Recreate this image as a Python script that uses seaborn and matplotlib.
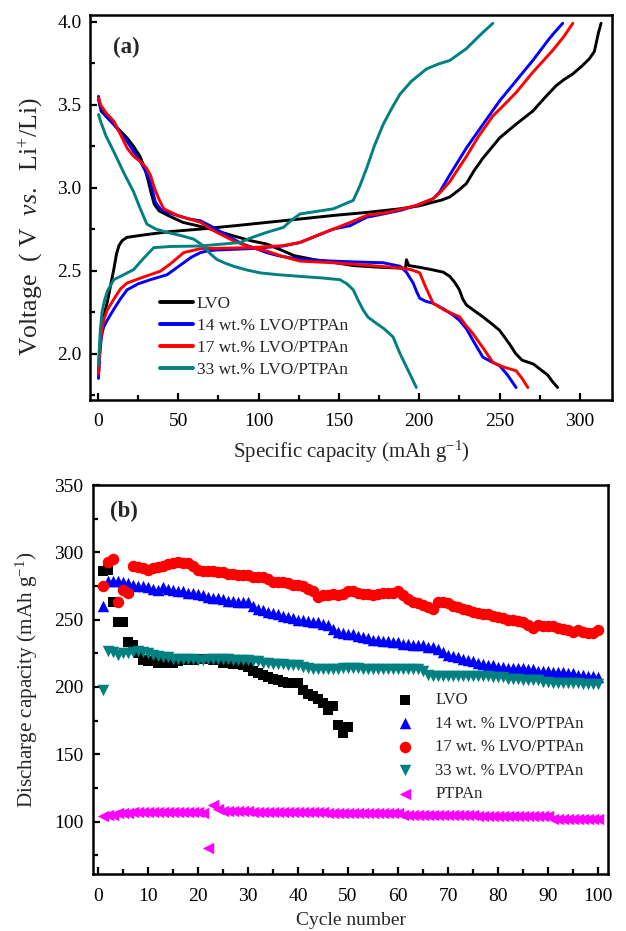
import numpy as np
import pandas as pd
import matplotlib
matplotlib.use("Agg")
import matplotlib.pyplot as plt
import seaborn as sns
from matplotlib.ticker import MultipleLocator

sns.set_theme(style="ticks")
plt.rcParams["font.family"] = ["Liberation Serif", "DejaVu Serif"]
plt.rcParams["mathtext.fontset"] = "custom"
plt.rcParams["mathtext.rm"] = "Liberation Serif"
plt.rcParams["mathtext.it"] = "Liberation Serif:italic"
plt.rcParams["mathtext.bf"] = "Liberation Serif:bold"

# ---------------- Panel (a) data: charge / discharge curves ----------------
series_a = ["LVO", "14 wt.% LVO/PTPAn", "17 wt.% LVO/PTPAn", "33 wt.% LVO/PTPAn"]
colors_a = ["#000000", "#0000FF", "#FF0000", "#008080"]

lvo_dis_cap = [0.3, 2, 6, 10, 14, 18, 22, 26, 29, 31, 33, 35, 38, 44, 53, 62, 70, 84, 95, 105, 115, 122, 135, 146, 159, 175, 188, 191.5, 192, 193.5, 200, 208, 215, 219, 222, 225, 227, 229.3, 234, 239.6, 245, 250, 256, 260, 264, 271, 276, 280, 283, 286.2]
lvo_dis_v = [3.53, 3.46, 3.42, 3.38, 3.34, 3.30, 3.25, 3.19, 3.12, 3.05, 2.97, 2.90, 2.86, 2.83, 2.79, 2.77, 2.75, 2.71, 2.68, 2.66, 2.62, 2.59, 2.565, 2.55, 2.53, 2.52, 2.515, 2.515, 2.565, 2.53, 2.52, 2.505, 2.49, 2.465, 2.43, 2.384, 2.33, 2.293, 2.26, 2.221, 2.18, 2.14, 2.06, 2.0, 1.96, 1.937, 1.90, 1.87, 1.83, 1.795]
lvo_chg_cap = [0.3, 0.8, 1.5, 2.5, 4, 6, 8, 9.8, 11.5, 13, 15, 18, 25, 32.6, 45, 63.7, 85, 105, 125, 146.5, 167, 187.9, 200, 208.6, 214, 218.9, 224, 229.3, 234, 239.6, 245, 250, 260, 270.7, 278, 285.2, 290, 295.6, 301, 305.9, 309, 310.1, 311.5, 313.2]
lvo_chg_v = [1.88, 1.98, 2.08, 2.17, 2.24, 2.32, 2.42, 2.506, 2.60, 2.65, 2.68, 2.70, 2.71, 2.72, 2.735, 2.75, 2.77, 2.79, 2.81, 2.832, 2.85, 2.872, 2.89, 2.912, 2.925, 2.943, 2.98, 3.024, 3.10, 3.177, 3.24, 3.299, 3.38, 3.461, 3.54, 3.614, 3.65, 3.685, 3.73, 3.776, 3.82, 3.868, 3.93, 3.99]

w14_dis_cap = [0.3, 1.55, 5, 9.8, 14, 18.1, 22, 26.4, 30, 32.6, 34.5, 35.7, 39, 43, 50, 57, 63.7, 69.9, 77, 84.4, 90, 96.8, 105, 112, 119.6, 130, 146.5, 160, 177.5, 188, 192, 196.2, 198.5, 200.3, 204, 208.6, 215, 221, 225, 229.3, 234, 239.6, 245, 250, 255, 260.3]
w14_dis_v = [3.55, 3.482, 3.43, 3.38, 3.33, 3.278, 3.22, 3.156, 3.09, 3.034, 2.96, 2.912, 2.87, 2.851, 2.83, 2.81, 2.80, 2.77, 2.73, 2.689, 2.66, 2.638, 2.608, 2.59, 2.577, 2.565, 2.557, 2.552, 2.547, 2.526, 2.49, 2.425, 2.37, 2.333, 2.315, 2.303, 2.27, 2.232, 2.2, 2.15, 2.07, 1.978, 1.95, 1.927, 1.87, 1.795]
w14_chg_cap = [0.3, 0.8, 1.5, 2.5, 3.5, 5.7, 10, 14, 18.1, 25, 32.6, 43, 48, 53.3, 58, 63.7, 69, 74, 94.7, 115.4, 125.7, 136, 146.5, 156.8, 167.2, 177.5, 188, 198.2, 208.6, 212.7, 218.9, 229.3, 239.6, 250, 260.3, 270.7, 281, 286.5, 289.3]
w14_chg_v = [1.85, 1.95, 2.05, 2.12, 2.16, 2.20, 2.27, 2.33, 2.384, 2.42, 2.445, 2.475, 2.51, 2.547, 2.58, 2.608, 2.62, 2.624, 2.632, 2.648, 2.669, 2.709, 2.75, 2.77, 2.821, 2.841, 2.862, 2.892, 2.933, 2.973, 3.075, 3.238, 3.38, 3.522, 3.644, 3.766, 3.898, 3.96, 3.99]

w17_dis_cap = [0.3, 1.55, 5, 9.8, 14, 18.1, 22, 26.4, 30, 32.6, 35, 37.8, 40.9, 50, 57, 63.7, 72, 84.4, 95, 105, 115, 125.7, 146.5, 170, 188, 195, 200.3, 204, 208.6, 216, 225.1, 229, 233.4, 240, 245.8, 252, 260.3, 264, 267.6]
w17_dis_v = [3.54, 3.50, 3.45, 3.40, 3.32, 3.238, 3.19, 3.156, 3.12, 3.075, 3.00, 2.933, 2.872, 2.83, 2.81, 2.791, 2.74, 2.679, 2.64, 2.618, 2.585, 2.557, 2.547, 2.53, 2.516, 2.505, 2.486, 2.40, 2.303, 2.26, 2.221, 2.17, 2.12, 2.03, 1.947, 1.92, 1.896, 1.85, 1.795]
w17_chg_cap = [0.3, 0.8, 1.5, 2.5, 3.8, 5.7, 10, 14, 18.1, 28, 38.8, 45, 53.3, 63.7, 94.7, 115, 125.7, 136, 146.5, 157, 167.2, 180, 198.2, 208.6, 213, 218.9, 229.3, 237, 245.8, 253, 260.3, 270.7, 283.1, 290, 295.6]
w17_chg_v = [1.88, 1.98, 2.07, 2.15, 2.21, 2.262, 2.33, 2.39, 2.425, 2.46, 2.496, 2.54, 2.608, 2.632, 2.638, 2.65, 2.669, 2.71, 2.75, 2.79, 2.832, 2.85, 2.892, 2.933, 2.97, 3.034, 3.187, 3.31, 3.431, 3.50, 3.573, 3.695, 3.827, 3.91, 3.99]

w33_dis_cap = [0.3, 1.55, 5, 9.8, 16, 22.2, 26, 30.4, 36, 43, 52, 59.6, 62.5, 65.8, 70, 74, 79, 84.4, 92, 101, 112, 125.7, 140, 150.6, 155, 158.9, 162, 165.1, 168, 173.4, 178, 183.7, 188, 192, 195, 198.2]
w33_dis_v = [3.44, 3.40, 3.31, 3.217, 3.09, 2.973, 2.88, 2.78, 2.75, 2.73, 2.71, 2.689, 2.67, 2.648, 2.60, 2.567, 2.545, 2.526, 2.505, 2.486, 2.475, 2.465, 2.455, 2.445, 2.42, 2.384, 2.32, 2.262, 2.22, 2.181, 2.15, 2.1, 2.0, 1.92, 1.86, 1.795]
w33_chg_cap = [0.3, 0.8, 1.5, 2.5, 4, 6, 9.8, 16, 22.2, 28, 34.7, 45, 63.7, 88.5, 96, 105, 115.4, 120, 125.7, 135, 146.5, 158.9, 163, 167.2, 172, 177.5, 183, 188, 195, 204.5, 212, 219, 229.3, 238, 245.8]
w33_chg_v = [1.93, 2.03, 2.15, 2.25, 2.32, 2.38, 2.445, 2.475, 2.506, 2.57, 2.638, 2.645, 2.648, 2.669, 2.70, 2.73, 2.76, 2.80, 2.841, 2.855, 2.872, 2.923, 3.01, 3.116, 3.25, 3.38, 3.48, 3.563, 3.64, 3.715, 3.745, 3.766, 3.837, 3.92, 3.99]

# ---------------- Panel (b) data: cycling ----------------
series_b = ["LVO", "14 wt. % LVO/PTPAn", "17 wt. % LVO/PTPAn", "33 wt. % LVO/PTPAn", "PTPAn"]
colors_b = ["#000000", "#0000FF", "#FF0000", "#008080", "#FF00FF"]
markers_b = ["s", "^", "o", "v", "<"]

lvo_cap = [286, 287, 263, 248, 248, 233, 231, 225, 220, 219, 219, 218, 219, 218, 218, 219, 220, 220, 220, 221,
           221, 221, 220, 220, 218, 219, 217, 217, 216, 215, 212, 210, 209, 207, 206, 205, 204, 203, 203, 203,
           198, 195, 193, 191, 188, 183, 186, 172, 166, 170]
w14_cap = [260, 279, 279, 279, 278, 277, 276, 275, 275, 274, 273, 272, 274, 273, 272, 271, 271, 270, 270, 269,
           268, 267, 266, 266, 265, 264, 264, 263, 263, 263, 260, 258, 257, 256, 255, 254, 253, 252, 251, 250,
           250, 249, 248, 248, 247, 246, 243, 241, 240, 239, 239, 238, 237, 236, 235, 235, 234, 234, 233, 233,
           232, 232, 231, 231, 231, 230, 230, 228, 226, 224, 223, 222, 221, 220, 219, 218, 217, 216, 216, 215,
           215, 214, 214, 214, 214, 213, 213, 212, 212, 212, 211, 211, 211, 210, 210, 209, 209, 208, 208, 207]
w17_cap = [275, 293, 295, 263, 272, 270, 290, 289, 288, 287, 288, 289, 290, 291, 292, 293, 292, 292, 290, 287,
           286, 286, 286, 285, 285, 284, 284, 283, 283, 283, 282, 282, 282, 280, 278, 278, 278, 277, 276, 276,
           275, 273, 271, 267, 268, 268, 269, 268, 269, 271, 271, 270, 269, 269, 268, 269, 270, 270, 270, 271,
           268, 265, 263, 262, 261, 259, 258, 263, 263, 262, 260, 259, 258, 257, 256, 255, 254, 254, 253, 252,
           251, 250, 250, 249, 248, 246, 244, 246, 245, 245, 245, 244, 243, 242, 241, 242, 241, 240, 240, 242]
w33_cap = [198, 227, 226, 224, 225, 225, 226, 227, 226, 225, 224, 223, 222, 222, 221, 221, 221, 221, 221, 220,
           220, 221, 221, 221, 221, 221, 220, 220, 220, 220, 219, 219, 218, 218, 217, 217, 217, 216, 216, 216,
           215, 214, 213, 213, 213, 213, 213, 213, 214, 214, 214, 214, 213, 213, 213, 213, 213, 213, 213, 213,
           213, 213, 213, 213, 212, 209, 208, 208, 208, 208, 208, 208, 208, 208, 208, 208, 208, 208, 207, 207,
           207, 206, 206, 206, 205, 205, 205, 205, 204, 204, 203, 203, 203, 203, 203, 203, 202, 202, 202, 202]
ptpan_cap = [104, 105, 105, 106, 106, 106, 107, 107, 107, 107, 107, 107, 107, 107, 107, 107, 107, 107, 107, 107,
             106, 80, 112, 109, 108, 108, 108, 108, 108, 108, 107, 107, 107, 107, 107, 107, 107, 107, 107, 107,
             107, 107, 107, 107, 107, 106, 106, 106, 106, 106, 106, 106, 106, 106, 106, 106, 106, 106, 106, 106,
             105, 105, 105, 105, 105, 105, 105, 105, 105, 105, 105, 105, 105, 105, 105, 104, 104, 104, 104, 104,
             104, 104, 104, 104, 104, 104, 104, 104, 104, 104, 102, 102, 102, 102, 102, 102, 102, 102, 102, 102]

# ---------------- Build tables ----------------
curves = [
    (series_a[0], lvo_chg_cap, lvo_chg_v, lvo_dis_cap, lvo_dis_v),
    (series_a[1], w14_chg_cap, w14_chg_v, w14_dis_cap, w14_dis_v),
    (series_a[2], w17_chg_cap, w17_chg_v, w17_dis_cap, w17_dis_v),
    (series_a[3], w33_chg_cap, w33_chg_v, w33_dis_cap, w33_dis_v),
]
rows = []
for name, cc, cv, dc, dv in curves:
    for i, (c, v) in enumerate(zip(cc, cv)):
        rows.append((name, name + "_chg", i, c, v))
    for i, (c, v) in enumerate(zip(dc, dv)):
        rows.append((name, name + "_dis", i, c, v))
df_a = pd.DataFrame(rows, columns=["sample", "branch", "order", "capacity", "voltage"])

cyc_sets = [lvo_cap, w14_cap, w17_cap, w33_cap, ptpan_cap]

# ---------------- Figure ----------------
fig = plt.figure(figsize=(6.26, 9.31), dpi=100)
ax1 = fig.add_axes([90 / 626, 1 - 400 / 931, 522 / 626, 385 / 931])
ax2 = fig.add_axes([93 / 626, 1 - 874 / 931, 515 / 626, 389 / 931])

sns.lineplot(data=df_a, x="capacity", y="voltage", hue="sample", units="branch",
             estimator=None, sort=False, palette=dict(zip(series_a, colors_a)),
             hue_order=series_a, linewidth=2.1, ax=ax1, legend=False)

for name, col, mk, vals in zip(series_b, colors_b, markers_b, cyc_sets):
    cyc = np.arange(1, len(vals) + 1)
    s = 50 if mk == "s" else 68
    sns.scatterplot(x=cyc, y=vals, color=col, marker=mk, s=s, linewidth=0,
                    label=name, ax=ax2, legend=False)

# ---------------- Axes styling ----------------
tick_fs = 14
for ax in (ax1, ax2):
    for sp in ax.spines.values():
        sp.set_linewidth(1.8)
        sp.set_color("black")
        sp.set_visible(True)
    ax.tick_params(which="both", direction="in", top=False, right=False, width=1.6,
                   colors="black", labelsize=tick_fs)
    ax.tick_params(which="major", length=5)
    ax.tick_params(which="minor", length=3.5)
    ax.set_facecolor("white")

ax1.set_xlim(-5, 320)
ax1.set_ylim(1.72, 4.04)
ax1.xaxis.set_major_locator(MultipleLocator(50))
ax1.xaxis.set_minor_locator(MultipleLocator(25))
ax1.yaxis.set_major_locator(MultipleLocator(0.5))
ax1.yaxis.set_minor_locator(MultipleLocator(0.25))
ax1.yaxis.set_major_formatter(matplotlib.ticker.FormatStrFormatter("%.1f"))
ax1.tick_params(axis="x", pad=9)
ax1.tick_params(axis="y", pad=6)
ax1.set_xlabel(r"Specific capacity (mAh g$^{\mathregular{-1}}$)", fontsize=15, labelpad=7)
ax1.set_ylabel(r"Voltage  ( V  $\mathit{vs.}$  Li$^{\mathregular{+}}$/Li)", fontsize=18.5)
ax1.yaxis.set_label_coords(-0.086, 0.45)
ax1.text(0.044, 0.917, "(a)", transform=ax1.transAxes, fontsize=16.5, fontweight="bold",
         va="center", ha="left")

handles_a = [matplotlib.lines.Line2D([], [], color=c, lw=2.8) for c in colors_a]
leg1 = ax1.legend(handles_a, series_a, loc="lower left", bbox_to_anchor=(0.135, 0.058),
                  frameon=False, fontsize=12.5, handlelength=1.9, handletextpad=0.2,
                  labelspacing=0.33, borderpad=0, borderaxespad=0)

ax2.set_xlim(-1, 102)
ax2.set_ylim(61, 350)
ax2.xaxis.set_major_locator(MultipleLocator(10))
ax2.xaxis.set_minor_locator(MultipleLocator(5))
ax2.yaxis.set_major_locator(MultipleLocator(50))
ax2.yaxis.set_minor_locator(MultipleLocator(25))
ax2.tick_params(axis="x", pad=10)
ax2.tick_params(axis="y", pad=7)
ax2.set_xlabel("Cycle number", fontsize=14, labelpad=5)
ax2.set_ylabel(r"Discharge capacity (mAh g$^{\mathregular{-1}}$)", fontsize=15.2)
ax2.yaxis.set_label_coords(-0.103, 0.5)
ax2.text(0.033, 0.931, "(b)", transform=ax2.transAxes, fontsize=16.5, fontweight="bold",
         va="center", ha="left")

h2, l2 = ax2.get_legend_handles_labels()
leg2 = ax2.legend(h2, l2, loc="lower left", bbox_to_anchor=(0.59, 0.185), frameon=False,
                  fontsize=12, handlelength=1.0, handletextpad=1.3, labelspacing=0.45,
                  borderpad=0, borderaxespad=0, markerscale=1.0)

fig.savefig("out.png", dpi=100, facecolor="white")
